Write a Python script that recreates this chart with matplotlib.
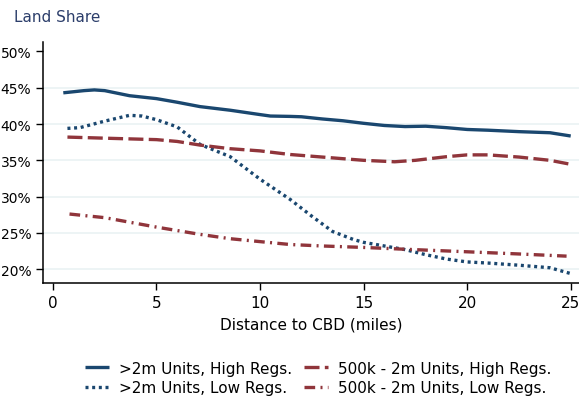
import matplotlib
matplotlib.use("Agg")
import matplotlib.pyplot as plt
from matplotlib.ticker import FuncFormatter

# Data
x_hi2m = [0.5, 1.5, 2.0, 2.5, 3.7, 5.0, 6.0, 7.1, 8.56, 10.0, 10.5, 11.46, 12.0, 13.0, 14.0, 15.0, 16.0, 17.0, 18.0, 19.0, 20.0, 21.0, 22.5, 24.0, 25.0]
y_hi2m = [44.3, 44.6, 44.7, 44.6, 43.9, 43.5, 43.0, 42.4, 41.9, 41.3, 41.1, 41.05, 41.0, 40.7, 40.45, 40.1, 39.8, 39.65, 39.7, 39.5, 39.25, 39.15, 38.95, 38.8, 38.35]

x_lo2m = [0.7, 1.3, 2.5, 3.7, 4.3, 5.0, 6.0, 7.1, 8.56, 10.0, 11.46, 12.5, 13.5, 14.5, 15.0, 16.0, 17.0, 18.0, 19.0, 20.0, 21.0, 22.5, 24.0, 25.0]
y_lo2m = [39.4, 39.5, 40.4, 41.2, 41.1, 40.6, 39.6, 37.2, 35.5, 32.4, 29.6, 27.3, 25.2, 24.1, 23.7, 23.2, 22.7, 22.0, 21.4, 21.0, 20.85, 20.55, 20.2, 19.4]

x_hi500 = [0.7, 2.5, 5.0, 6.0, 7.1, 8.56, 10.0, 11.46, 13.0, 15.0, 16.5, 17.5, 19.0, 20.0, 21.0, 22.5, 24.0, 25.0]
y_hi500 = [38.2, 38.05, 37.85, 37.6, 37.1, 36.6, 36.3, 35.8, 35.45, 35.0, 34.8, 35.0, 35.5, 35.75, 35.75, 35.45, 35.0, 34.45]

x_lo500 = [0.8, 2.5, 5.0, 7.1, 8.56, 10.0, 11.46, 13.0, 15.0, 17.0, 20.0, 22.5, 24.8]
y_lo500 = [27.6, 27.1, 25.8, 24.8, 24.2, 23.8, 23.4, 23.2, 23.0, 22.75, 22.4, 22.1, 21.8]

labels = [">2m Units, High Regs.", ">2m Units, Low Regs.",
          "500k - 2m Units, High Regs.", "500k - 2m Units, Low Regs."]
xticks = [0, 5, 10, 15, 20, 25]
yticks = [20, 25, 30, 35, 40, 45, 50]

navy = "#1a476f"
maroon = "#90353b"

fig = plt.figure(figsize=(5.79, 4.02), dpi=100)
ax = fig.add_axes([43/579, 1-284/402, (579-43)/579, (284-43)/402])

lw = 2.4
l1, = ax.plot(x_hi2m, y_hi2m, color=navy, lw=lw, solid_capstyle='butt')
l2, = ax.plot(x_lo2m, y_lo2m, color=navy, lw=lw, linestyle=(0, (0.9, 1.1)))
l3, = ax.plot(x_hi500, y_hi500, color=maroon, lw=lw, linestyle=(0, (4.5, 1.6)))
l4, = ax.plot(x_lo500, y_lo500, color=maroon, lw=lw, linestyle=(0, (3.2, 1.6, 0.6, 1.6)))

ax.set_xlim(-0.48, 25.4)
ax.set_ylim(18.1, 51.3)
ax.set_xticks(xticks)
ax.set_yticks(yticks)
ax.yaxis.set_major_formatter(FuncFormatter(lambda v, p: f"{int(v)}%"))
for y in yticks[:-1]:
    ax.axhline(y, color="#eaf2f3", lw=1.2, zorder=0)

for s in ["top", "right"]:
    ax.spines[s].set_visible(False)
for s in ["left", "bottom"]:
    ax.spines[s].set_linewidth(1.1)
    ax.spines[s].set_color("black")
ax.tick_params(axis='both', labelsize=10, length=5, width=1, colors="black")
ax.tick_params(axis='x', labelsize=11)
ax.set_xlabel("Distance to CBD (miles)", fontsize=11, labelpad=5)

fig.text(14/579, 1-17/402, "Land Share", fontsize=11, color="#2c3e6b", va='center', ha='left')

fig.legend([l1, l2, l3, l4], labels, loc='center', bbox_to_anchor=(318/579, 1-379/402),
           ncol=2, frameon=False, fontsize=11, handlelength=1.6, columnspacing=0.8,
           handletextpad=0.6, labelspacing=0.3)

fig.savefig("out.png", dpi=100)
